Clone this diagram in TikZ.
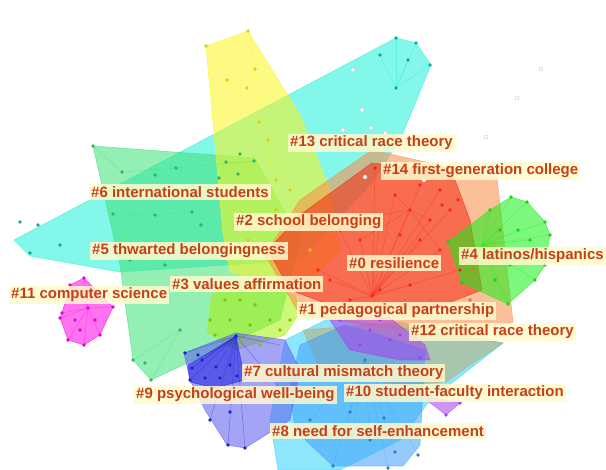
\documentclass[tikz,border=0pt]{standalone}
\usepackage{fontspec}
\newfontfamily\labelfont{Liberation Sans}
\usetikzlibrary{positioning}

\definecolor{labeltext}{RGB}{200,62,22}
\definecolor{labelfill}{RGB}{255,250,205}
\definecolor{cyanC}{RGB}{30,240,215}
\definecolor{greenC}{RGB}{60,225,120}
\definecolor{yellowC}{RGB}{250,245,30}
\definecolor{limeC}{RGB}{165,240,10}
\definecolor{redC}{RGB}{245,40,20}
\definecolor{orangeC}{RGB}{250,140,70}
\definecolor{latinoC}{RGB}{20,240,20}
\definecolor{magentaC}{RGB}{255,0,230}
\definecolor{violetC}{RGB}{90,90,240}
\definecolor{blueC}{RGB}{30,30,220}
\definecolor{skyC}{RGB}{60,160,250}
\definecolor{paleC}{RGB}{50,210,250}
\definecolor{tanC}{RGB}{190,170,110}
\definecolor{purpleC}{RGB}{170,60,240}
\definecolor{grayC}{RGB}{200,200,200}

\begin{document}
\begin{tikzpicture}[
            x=1pt, y=-1pt,
            % cluster hulls
            hull/.style={fill=#1, fill opacity=0.55, draw=#1, draw opacity=0.6, line width=0.6pt},
            % links inside a cluster
            link/.style={draw=#1, opacity=0.35, line width=0.6pt},
            % cluster labels
            clabel/.style={
                fill=labelfill,
                fill opacity=0.85,
                text opacity=1,
                text=labeltext,
                anchor=west,
                inner xsep=2pt,
                inner ysep=2pt,
                font=\labelfont\bfseries\fontsize{15}{17}\selectfont
            }
        ]

            \useasboundingbox (0,0) rectangle (606,470);

            % Hulls
            \path[hull=cyanC] (14,240) -- (396,38) -- (416,43) -- (431,65) -- (400,140) -- (370,185) -- (300,260) -- (120,272) -- (30,256) -- cycle;
            \path[hull=greenC] (93,146) -- (255,158) -- (300,240) -- (280,320) -- (151,380) -- (133,360) -- (120,265) -- cycle;
            \path[hull=yellowC] (206,46) -- (248,31) -- (300,115) -- (330,190) -- (340,250) -- (300,290) -- (230,272) -- (223,233) -- cycle;
            \path[hull=limeC] (207,332) -- (212,295) -- (240,280) -- (295,295) -- (300,312) -- (285,335) -- (235,350) -- cycle;
            \path[hull=paleC] (285,340) -- (330,318) -- (420,330) -- (503,343) -- (430,400) -- (400,440) -- (340,470) -- (278,470) -- (270,420) -- cycle;
            \path[hull=orangeC] (300,200) -- (372,150) -- (497,178) -- (513,322) -- (470,330) -- (400,330) -- (300,315) -- (265,255) -- cycle;
            \path[hull=redC] (372,163) -- (452,172) -- (470,220) -- (482,290) -- (430,310) -- (330,305) -- (290,290) -- (268,250) -- (300,215) -- cycle;
            \path[hull=latinoC] (511,197) -- (527,202) -- (545,222) -- (550,235) -- (545,265) -- (535,280) -- (508,304) -- (462,283) -- (448,242) -- (490,210) -- cycle;
            \path[hull=tanC] (303,330) -- (400,322) -- (503,343) -- (470,365) -- (446,382) -- (400,385) -- (320,370) -- cycle;
            \path[hull=magentaC] (84,278) -- (113,307) -- (100,335) -- (84,345) -- (68,340) -- (60,318) -- (62,313) -- (70,285) -- cycle;
            \path[hull=skyC] (300,345) -- (345,325) -- (380,335) -- (425,350) -- (420,445) -- (403,466) -- (333,466) -- (295,430) -- (290,390) -- cycle;
            \path[hull=violetC] (184,353) -- (236,333) -- (285,340) -- (300,370) -- (290,420) -- (245,448) -- (227,445) -- (205,410) -- (190,380) -- cycle;
            \path[hull=blueC] (188,365) -- (210,352) -- (236,336) -- (245,380) -- (215,388) -- (190,382) -- cycle;
            \path[hull=purpleC] (330,320) -- (390,318) -- (425,345) -- (430,360) -- (400,360) -- (350,350) -- cycle;
            \path[hull=purpleC] (420,395) -- (460,403) -- (446,415) -- cycle;

            % Links
            \foreach \p in {(511,197),(527,202),(545,222),(550,235),(545,265),(535,280),(508,304),(462,283),(448,242),(490,210),(500,230),(518,230),(520,250),(510,265),(495,280),(530,240),(525,258)}
                \draw[link=latinoC] (482,245) -- \p;
            \foreach \p in {(375,168),(395,195),(420,185),(440,190),(380,215),(410,210),(430,220),(450,210),(360,240),(340,230),(395,260),(420,240),(440,250),(460,270),(380,290),(410,285),(350,300),(330,280),(318,270)}
                \draw[link=redC] (372,296) -- \p;
            \foreach \p in {(380,215),(430,220),(360,240),(440,250),(395,195)}
                \draw[link=redC] (410,210) -- \p;
            \foreach \p in {(185,353),(245,448),(228,445),(210,420),(190,380),(202,360),(216,367),(192,368),(230,365),(280,345),(290,400)}
                \draw[link=blueC] (236,336) -- \p;
            \foreach \p in {(333,466),(388,468),(418,455),(352,435),(370,440),(395,452),(320,400),(350,412),(310,420),(400,430)}
                \draw[link=skyC] (365,360) -- \p;
            \foreach \p in {(396,38),(416,43),(430,65),(380,55),(408,60),(396,88)}
                \draw[link=cyanC] (396,88) -- \p;
            \foreach \p in {(84,278),(113,307),(100,335),(84,345),(68,340),(60,318),(62,313),(70,285)}
                \draw[link=magentaC] (88,308) -- \p;
            \draw[link=greenC] (93,146) -- (122,172) -- (176,168) -- (254,161);
            \draw[link=greenC] (113,214) -- (155,215) -- (192,212);
            \draw[link=greenC] (133,360) -- (180,330) -- (151,380);
            \draw[link=yellowC] (206,46) -- (259,122) -- (290,190) -- (296,225);
            \draw[link=yellowC] (248,31) -- (268,140) -- (276,210);

            % Nodes
            \foreach \p in {(396,38),(416,43),(430,65),(380,55),(408,60),(396,88),(20,222),(38,225),(60,245),(30,253)}
                \fill[cyanC!70!black] \p circle (1.8);
            \foreach \p in {(93,146),(122,172),(155,175),(176,168),(240,154),(254,161),(226,162),(238,174),(219,178),(113,214),(155,215),(192,212),(201,225),(130,260),(165,265),(180,330),(151,380),(133,360),(145,363)}
                \fill[greenC!80!black] \p circle (1.8);
            \foreach \p in {(206,46),(248,31),(255,69),(227,80),(247,88),(259,122),(268,140),(276,180),(290,190),(276,210),(255,230),(296,225),(224,258),(248,240),(310,250)}
                \fill[yellowC!85!black] \p circle (1.8);
            \foreach \p in {(225,300),(240,300),(255,305),(210,320),(230,320),(250,325),(270,320),(290,320),(215,335),(240,340),(280,330),(260,345)}
                \fill[limeC!80!black] \p circle (1.8);
            \foreach \p in {(375,168),(395,195),(420,185),(440,190),(380,215),(410,210),(430,220),(450,210),(400,235),(360,240),(340,230),(395,260),(420,240),(440,250),(460,270),(380,290),(410,285),(350,300),(330,280),(318,270),(458,200),(442,205),(372,296)}
                \fill[redC] \p circle (1.8);
            \foreach \p in {(470,255),(472,270),(340,215),(300,250),(290,270),(470,300),(320,290),(405,300),(430,300)}
                \fill[orangeC!85!black] \p circle (1.8);
            \foreach \p in {(511,197),(527,202),(545,222),(550,235),(545,265),(535,280),(508,304),(462,283),(448,242),(490,210),(500,230),(518,230),(520,250),(510,265),(495,280),(530,240),(525,258)}
                \fill[latinoC!90!black] \p circle (1.8);
            \foreach \p in {(84,278),(113,307),(100,335),(84,345),(68,340),(60,318),(62,313),(70,285),(88,308),(75,320),(95,320),(80,330)}
                \fill[magentaC!90!black] \p circle (1.8);
            \foreach \p in {(185,353),(245,448),(228,445),(210,420),(190,380),(237,376),(230,412),(202,360),(216,367),(192,368),(205,378),(220,378),(230,365),(198,355),(236,336)}
                \fill[blueC] \p circle (1.8);
            \foreach \p in {(333,466),(388,468),(418,455),(352,435),(370,440),(395,452),(320,400),(350,412),(310,420),(400,430),(384,418),(365,360)}
                \fill[skyC!80!black] \p circle (1.8);
            \foreach \p in {(446,415),(460,403),(340,320),(380,320),(370,330),(390,340),(360,345),(400,335),(420,358)}
                \fill[purpleC] \p circle (1.8);
            \foreach \p in {(353,70),(362,110),(343,130),(371,128),(385,133),(450,139),(486,137),(517,98),(541,69),(365,177),(424,180)}
                \draw[grayC, fill=white] \p circle (2);

            % Cluster labels
            \node[clabel] (c13) at (288,143) {\#13 critical race theory};
            \node[clabel] (c14) at (381,171) {\#14 first-generation college};
            \node[clabel] (c6)  at (89,192)  {\#6 international students};
            \node[clabel] (c2)  at (234,222) {\#2 school belonging};
            \node[clabel] (c5)  at (90,251)  {\#5 thwarted belongingness};
            \node[clabel] (c0)  at (347,263) {\#0 resilience};
            \node[clabel] (c4)  at (459,256) {\#4 latinos/hispanics};
            \node[clabel] (c11) at (9,295)   {\#11 computer science};
            \node[clabel] (c3)  at (170,284) {\#3 values affirmation};
            \node[clabel] (c1)  at (297,311) {\#1 pedagogical partnership};
            \node[clabel] (c12) at (409,332) {\#12 critical race theory};
            \node[clabel] (c7)  at (242,373) {\#7 cultural mismatch theory};
            \node[clabel] (c9)  at (134,395) {\#9 psychological well-being};
            \node[clabel] (c10) at (344,393) {\#10 student-faculty interaction};
            \node[clabel] (c8)  at (270,431) {\#8 need for self-enhancement};

        \end{tikzpicture}
\end{document}
